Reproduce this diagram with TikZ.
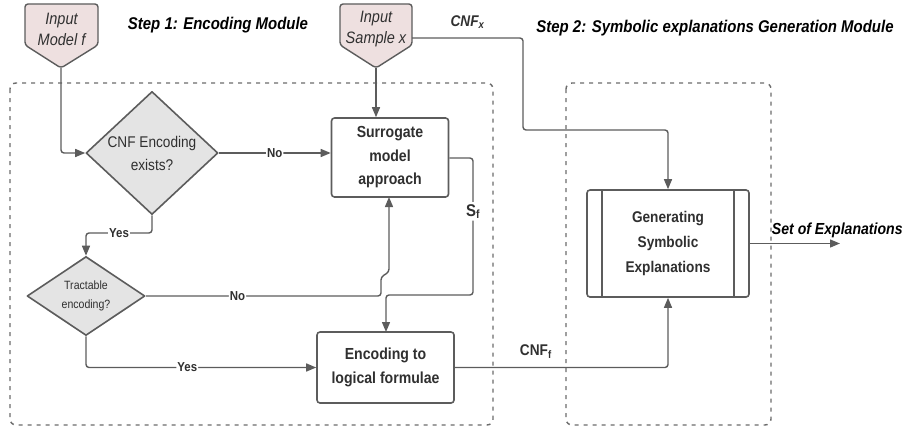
\documentclass[tikz,border=0pt]{standalone}
\usepackage{fontspec}
\setmainfont{Liberation Sans}[FakeStretch=0.88]
\usetikzlibrary{shapes.geometric,arrows.meta,positioning}
\definecolor{linegray}{HTML}{5C5C5C}
\definecolor{inputfill}{HTML}{EEE0E0}
\definecolor{decfill}{HTML}{E4E4E4}
\definecolor{txtgray}{HTML}{303030}
\tikzset{
  module/.style={draw=linegray!90, line width=1.4pt, dash pattern=on 4pt off 5pt, rounded corners=6pt},
  inshape/.style={draw=linegray, fill=inputfill, line width=1.4pt, rounded corners=3pt},
  intext/.style={align=center, text=txtgray, font=\fontsize{16.5}{21}\selectfont\itshape},
  title/.style={text=black, font=\fontsize{17}{20}\selectfont\bfseries\itshape},
  proc/.style={draw=linegray, line width=1.6pt, rounded corners=3pt, fill=white, align=center,
    text=txtgray, font=\fontsize{16}{23.5}\selectfont\bfseries},
  decision/.style={diamond, draw=linegray, line width=1.6pt, fill=decfill, inner sep=0pt, align=center,
    text=txtgray, font=\fontsize{15.5}{23}\selectfont},
  flow/.style={draw=linegray, line width=1.4pt, rounded corners=3pt},
  lbl/.style={fill=white, inner sep=1pt, text=txtgray, font=\fontsize{13}{14}\selectfont\bfseries},
  sublbl/.style={text=txtgray, font=\fontsize{15.5}{18}\selectfont\bfseries},
}
\begin{document}
\begin{tikzpicture}[x=1pt, y=-1pt, line join=round, >={Triangle[length=10pt,width=8pt]}]
\useasboundingbox (0,0) rectangle (904,428);

% dashed modules
\draw[module] (10,83) rectangle (493,425);
\draw[module] (566,83) rectangle (771,425);

% titles
\node[title] (step1) at (218,25) {Step 1: Encoding Module};
\node[title] (step2) at (715,28) {Step 2: Symbolic explanations Generation Module};

% inputs
\draw[inshape] (25,4) -- (98,4) -- (98,45) -- (61,68) -- (25,45) -- cycle;
\node[intext] (modelf) at (61.5,29) {Input\\Model f};
\coordinate (modelf-tip) at (61,68);
\draw[inshape] (340,4) -- (412,4) -- (412,45) -- (376,68) -- (340,45) -- cycle;
\node[intext] (samplex) at (376,29) {Input\\Sample x};
\coordinate (samplex-tip) at (376,68);
\coordinate (samplex-out) at (412,38);

% decisions and processes
\node[decision, minimum width=132pt, minimum height=108pt] (cnfq) at (152,153) {CNF Encoding\\exists?};
\node[decision, minimum width=118pt, minimum height=72pt, font=\fontsize{12}{19}\selectfont] (tract) at (86,296) {Tractable\\encoding?};
\node[proc, minimum width=117pt, minimum height=79pt] (surr) at (390,157.5) {Surrogate\\model\\approach};
\node[proc, minimum width=137pt, minimum height=71pt] (encb) at (385.5,367.5) {Encoding to\\logical formulae};
\node[proc, minimum width=162pt, minimum height=107pt, font=\fontsize{15.5}{25}\selectfont\bfseries] (gen) at (668,243.5) {Generating\\Symbolic\\Explanations};
\draw[linegray, line width=1.6pt] ([xshift=16pt]gen.north west) -- ([xshift=16pt]gen.south west);
\draw[linegray, line width=1.6pt] ([xshift=-16pt]gen.north east) -- ([xshift=-16pt]gen.south east);

% connectors
\draw[flow,->] (modelf-tip) |- (cnfq.west);
\draw[flow,->] (samplex-tip) -- (samplex-tip |- surr.north);
\draw[flow,->] (cnfq.east) -- node[lbl]{No} (cnfq.east -| surr.west);
\draw[flow,->] (cnfq.south) -- (152,233) -- node[lbl]{Yes} (86,233) -- (tract.north);
\draw[flow,->] (tract.east) -- node[lbl, pos=0.39]{No} (381,296) -- (381,277) -- (389,272) -- (389,197);
\draw[flow,->] (tract.south) |- node[lbl, pos=0.72]{Yes} (encb.west);
\draw[flow,->] (surr.east |- 0,158) -- (473,158) -- node[fill=white, inner sep=2pt, sublbl, font=\fontsize{17}{18}\selectfont\bfseries, pos=0.39]{S\textsubscript{f}} (473,295) -- (386,295) -- (386,332);
\draw[flow,->] (samplex-out) -- node[above=5pt, sublbl, font=\fontsize{15.5}{18}\selectfont\bfseries\itshape]{CNF\textsubscript{x}} (523,38) -- (523,130) -| (gen.north);
\draw[flow,->] (encb.east) -| node[above=5pt, sublbl, pos=0.19]{CNF\textsubscript{f}} (gen.south);
\draw[flow,->] (gen.east) -- node[above=2pt, pos=0.97, title, font=\fontsize{16}{18}\selectfont\bfseries\itshape]{Set of Explanations} (840,243.5);
\end{tikzpicture}
\end{document}
